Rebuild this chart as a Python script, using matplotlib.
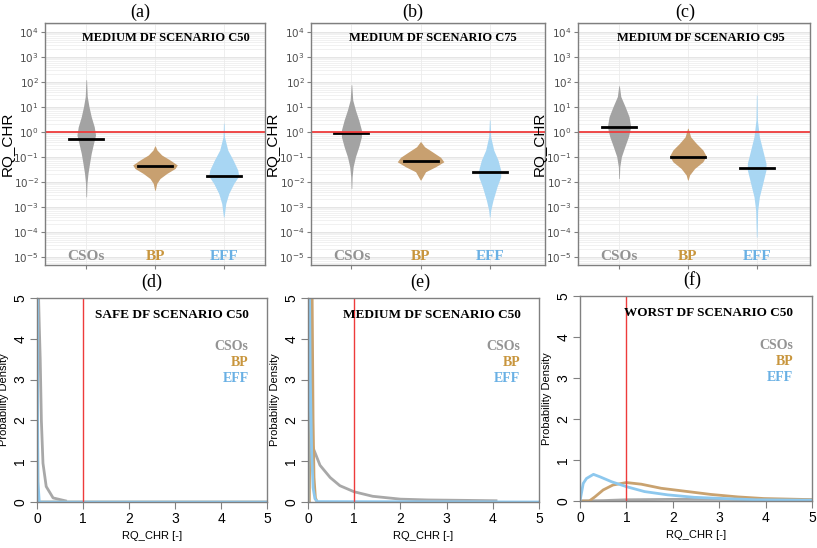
import numpy as np
import matplotlib
matplotlib.use('Agg')
import matplotlib.pyplot as plt
import matplotlib.transforms as mtransforms
from matplotlib.ticker import LogLocator, LogFormatterMathtext, NullFormatter

plt.rcParams['mathtext.fontset'] = 'custom'
plt.rcParams['mathtext.rm'] = 'Liberation Sans'
plt.rcParams['mathtext.it'] = 'Liberation Sans:italic'
plt.rcParams['mathtext.bf'] = 'Liberation Sans:bold'

groups = ['CSOs', 'BP', 'EFF']

# top row: RQ_CHR distributions, (log10 value, half width in px)
top_titles = ['MEDIUM DF SCENARIO C50', 'MEDIUM DF SCENARIO C75', 'MEDIUM DF SCENARIO C95']
top_medians = [[0.52, 0.044, 0.017], [0.89, 0.069, 0.026], [1.55, 0.10, 0.035]]

profile_a = {
    'CSOs': ([2.09, 1.42, 1.02, 0.61, 0.21, -0.12, -0.45, -0.85, -1.25, -1.66, -2.06, -2.59],
             [0.3, 1, 2.7, 5, 8, 9.3, 7.3, 5, 3.3, 1.7, 0.7, 0.3]),
    'BP': ([-0.56, -0.72, -0.92, -1.12, -1.32, -1.46, -1.66, -1.86, -2.06, -2.33],
           [0.3, 2, 6.7, 15, 22.3, 20, 11.7, 5, 1.7, 0.3]),
    'EFF': ([0.35, -0.19, -0.72, -1.12, -1.52, -1.76, -2.06, -2.46, -2.86, -3.4],
            [0.3, 0.7, 4, 9.3, 14, 15, 10, 5, 2, 0.3]),
}
profile_b = {
    'CSOs': ([1.89, 1.28, 0.88, 0.48, 0.08, -0.19, -0.59, -0.99, -1.39, -1.79, -2.26],
             [0.3, 1.3, 4, 7.3, 10, 10, 7.3, 4, 1.7, 0.7, 0.3]),
    'BP': ([-0.39, -0.59, -0.79, -1.01, -1.19, -1.39, -1.59, -1.92],
           [0.3, 4, 11.7, 20, 23.3, 15, 5, 0.3]),
    'EFF': ([0.48, -0.19, -0.72, -1.12, -1.52, -1.79, -2.19, -2.73, -3.13, -3.4],
            [0.3, 1, 4, 8.3, 11, 11, 7.3, 3.3, 1, 0.3]),
}
profile_c = {
    'CSOs': ([1.85, 1.42, 1.02, 0.61, 0.21, -0.19, -0.59, -0.99, -1.39, -1.86],
             [0.3, 1.7, 6, 10, 11.7, 9.3, 5.7, 2.3, 0.7, 0.3]),
    'BP': ([0.15, -0.19, -0.45, -0.72, -0.96, -1.19, -1.46, -1.72, -1.92],
           [0.3, 2.7, 8.3, 15, 18.3, 15, 6.7, 1.7, 0.3]),
    'EFF': ([1.48, 0.48, -0.19, -0.72, -1.25, -1.52, -2.06, -2.59, -3.13, -4.2],
            [0.3, 0.7, 2.7, 6, 9.3, 9.3, 6, 2.7, 1, 0.3]),
}
top_profiles = [profile_a, profile_b, profile_c]

# bottom row: probability density curves
bottom_titles = ['SAFE DF SCENARIO C50', 'MEDIUM DF SCENARIO C50', 'WORST DF SCENARIO C50']
pdf_d = {
    'CSOs': ([0, 0.01, 0.03, 0.05, 0.07, 0.095, 0.13, 0.2, 0.35, 0.65],
             [0, 6, 5.2, 4.3, 3.5, 2.0, 0.95, 0.38, 0.1, 0.02]),
    'BP': ([0, 0.004, 0.01, 0.02, 5], [0, 6, 2, 0, 0]),
    'EFF': ([0, 0.002, 0.01, 0.02, 0.05, 5], [0, 8, 3, 0.5, 0, 0]),
}
pdf_e = {
    'CSOs': ([0, 0.02, 0.05, 0.12, 0.26, 0.48, 0.69, 1.0, 1.4, 2.0, 2.6, 3.4, 4.1],
             [0, 1.2, 1.55, 1.3, 0.9, 0.6, 0.4, 0.25, 0.14, 0.07, 0.05, 0.04, 0.03]),
    'BP': ([0.03, 0.05, 0.07, 0.09, 0.11, 0.13, 0.16, 0.2],
           [0, 3, 6, 5, 2, 0.6, 0.1, 0]),
    'EFF': ([0, 0.005, 0.02, 0.03, 0.05, 0.08, 0.11, 0.15, 0.2, 5],
            [0, 5.5, 6, 5.5, 3, 1.2, 0.35, 0.08, 0.01, 0]),
}
pdf_f = {
    'CSOs': ([0, 0.5, 1, 2, 3, 4, 5], [0, 0.01, 0.03, 0.04, 0.04, 0.03, 0.03]),
    'BP': ([0, 0.2, 0.32, 0.5, 0.71, 1.0, 1.32, 1.75, 2.25, 2.82, 3.4, 3.96, 4.75, 5],
           [0, 0, 0.1, 0.27, 0.39, 0.45, 0.41, 0.31, 0.24, 0.16, 0.1, 0.06, 0.04, 0.03]),
    'EFF': ([0, 0.07, 0.14, 0.29, 0.43, 0.68, 1.0, 1.39, 1.89, 2.46, 3.1, 3.8, 5.0],
            [0, 0.43, 0.55, 0.65, 0.59, 0.47, 0.35, 0.23, 0.15, 0.09, 0.06, 0.03, 0.02]),
}
bottom_pdfs = [pdf_d, pdf_e, pdf_f]

panel_letters = ['(a)', '(b)', '(c)', '(d)', '(e)', '(f)']

fill_colors = {'CSOs': '#a3a3a3', 'BP': '#c8a070', 'EFF': '#a8d6f3'}
line_colors = {'CSOs': '#a8a8a8', 'BP': '#c9a26f', 'EFF': '#8dc8ee'}
text_colors = {'CSOs': '#939393', 'BP': '#c8953c', 'EFF': '#69b0e4'}
red = '#ee3b3b'
serif = 'Liberation Serif'
sans = 'Liberation Sans'

W, H = 817, 548
fig = plt.figure(figsize=(W / 100, H / 100), dpi=100)


def box(x0, x1, y0, y1):
    return [x0 / W, 1 - y1 / H, (x1 - x0) / W, (y1 - y0) / H]


top_px = [(45, 265), (311, 545), (578, 810)]
top_xlims = [(0.4, 3.6), (0.415, 3.8), (0.403, 3.775)]
top_title_x = [0.55, 0.52, 0.53]
ylabel_px = [8, 273, 540]
bottom_boxes = [box(37, 267, 298, 502), box(308, 539, 298, 502), box(580, 812, 296, 501)]

# ---------- top row ----------
for i in range(3):
    x0, x1 = top_px[i]
    ax = fig.add_axes(box(x0, x1, 23, 265))
    ax.set_yscale('log')
    ax.set_ylim(10 ** -5.32, 10 ** 4.36)
    ax.set_xlim(*top_xlims[i])
    px_per_unit = (x1 - x0) / (top_xlims[i][1] - top_xlims[i][0])
    ax.yaxis.set_major_locator(LogLocator(base=10, numticks=15))
    ax.yaxis.set_major_formatter(LogFormatterMathtext())
    ax.yaxis.set_minor_locator(LogLocator(base=10, subs=np.arange(2, 10), numticks=15))
    ax.yaxis.set_minor_formatter(NullFormatter())
    ax.grid(True, which='major', axis='y', color='#e0e0e0', lw=0.6)
    ax.grid(True, which='minor', axis='y', color='#ececec', lw=0.5)
    ax.set_xticks([1, 2, 3])
    ax.set_xticklabels([])
    ax.grid(True, which='major', axis='x', color='#ebebeb', lw=0.6)
    ax.set_axisbelow(True)
    ax.tick_params(axis='both', which='major', length=3, color='#808080',
                   labelsize=7.5, labelcolor='#4d4d4d', pad=1.5)
    ax.tick_params(axis='y', which='minor', length=0)
    for sp in ax.spines.values():
        sp.set_color('#7f7f7f')
        sp.set_linewidth(1)

    prof = top_profiles[i]
    for j, g in enumerate(groups):
        logy, w = prof[g]
        y = 10 ** np.array(logy)
        hw = np.array(w) / px_per_unit
        ax.fill_betweenx(y, (j + 1) - hw, (j + 1) + hw, color=fill_colors[g], lw=0)
        half = 17 / px_per_unit
        ax.plot([j + 1 - half, j + 1 + half], [top_medians[i][j]] * 2, color='black', lw=2)

    ax.axhline(1.0, color=red, lw=1.3)
    trans = mtransforms.blended_transform_factory(ax.transData, ax.transAxes)
    for j, g in enumerate(groups):
        ax.text(j + 1, 0.035, g, transform=trans, ha='center', va='center',
                fontfamily=serif, fontweight='bold', fontsize=11, color=text_colors[g])
    ax.text(top_title_x[i], 0.938, top_titles[i], transform=ax.transAxes, ha='center',
            va='center', fontfamily=serif, fontweight='bold', fontsize=9)
    fig.text(ylabel_px[i] / W, 1 - 144 / H, 'RQ_CHR', rotation=90,
             ha='center', va='center', fontfamily=sans, fontsize=11)

# ---------- bottom row ----------
for i in range(3):
    ax = fig.add_axes(bottom_boxes[i])
    ax.set_xlim(0, 5)
    ax.set_ylim(0, 5)
    ax.set_xticks(range(6))
    ax.set_yticks(range(6))
    ax.tick_params(axis='both', length=5, color='#808080', labelsize=10, pad=2)
    for lab in ax.get_yticklabels():
        lab.set_rotation(90)
        lab.set_va('center')
    for lab in ax.get_xticklabels() + ax.get_yticklabels():
        lab.set_fontfamily(sans)
    for sp in ax.spines.values():
        sp.set_color('#808080')
        sp.set_linewidth(1)

    pdfs = bottom_pdfs[i]
    for g in groups:
        xs, ys = pdfs[g]
        ax.plot(xs, ys, color=line_colors[g], lw=2, solid_capstyle='butt')
    ax.axvline(1.0, color=red, lw=1)

    ax.text(0.92, 0.917, bottom_titles[i], transform=ax.transAxes, ha='right', va='center',
            fontfamily=serif, fontweight='bold', fontsize=9.5)
    for j, g in enumerate(groups):
        ax.text(0.92, 0.76 - j * 0.078, g, transform=ax.transAxes, ha='right', va='center',
                fontfamily=serif, fontweight='bold', fontsize=10, color=text_colors[g])
    ax.set_xlabel('RQ_CHR [-]', fontfamily=sans, fontsize=8, labelpad=4)
    ax.set_ylabel('Probability Density', fontfamily=sans, fontsize=8, labelpad=3)

# panel letters
letter_pos = [(140, 12), (413, 12), (685, 12), (152, 282), (420, 282), (692, 280)]
for lab, (px, py) in zip(panel_letters, letter_pos):
    fig.text(px / W, 1 - py / H, lab, ha='center', va='center', fontfamily=serif, fontsize=13)

fig.savefig('out.png', dpi=100)
